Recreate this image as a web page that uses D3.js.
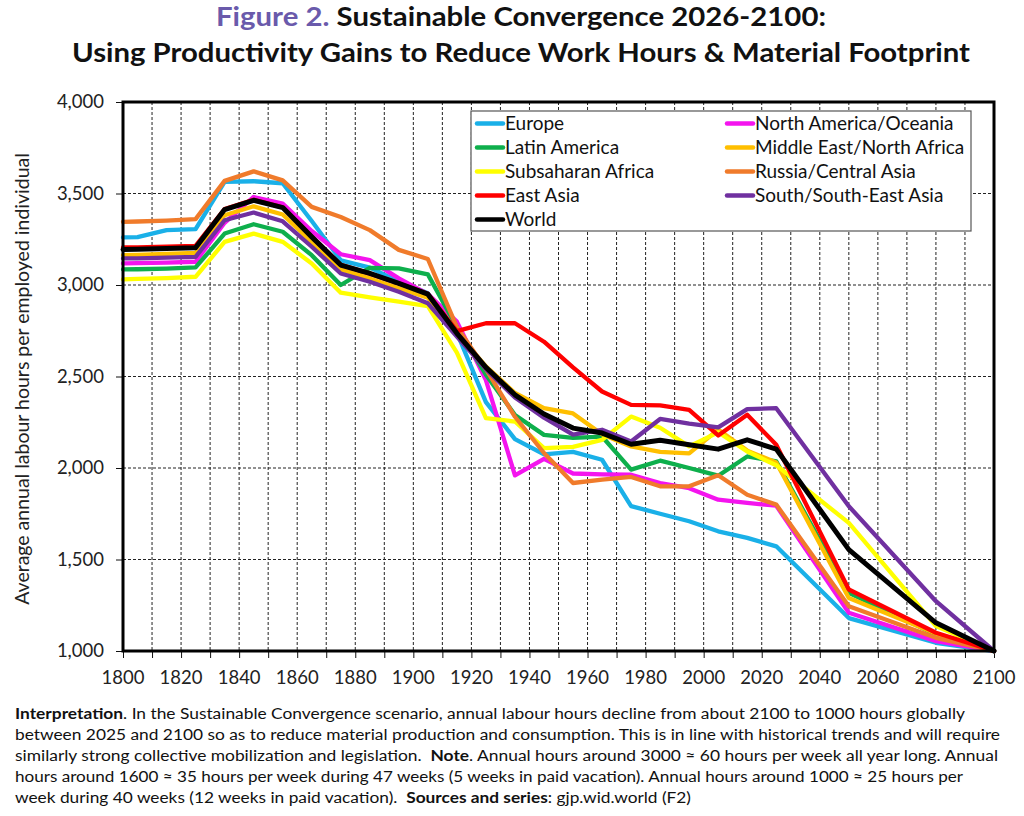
<!DOCTYPE html>
<html>
<head>
<meta charset="utf-8">
<script src="https://cdn.jsdelivr.net/npm/d3@7"></script>
<style>
  body { margin: 0; background: #fff; }
  text { font-family: Lato, "Open Sans", sans-serif; }
</style>
</head>
<body>
<div id="chart"></div>
<script>
var years = [1800, 1805, 1815, 1825, 1835, 1845, 1855, 1865, 1875, 1885, 1895, 1905, 1915, 1925, 1935, 1945, 1955, 1965, 1975, 1985, 1995, 2005, 2015, 2025, 2050, 2080, 2100];

var europe      = [3260, 3262, 3300, 3305, 3563, 3567, 3556, 3350, 3135, 3095, 3020, 2955, 2740, 2360, 2158, 2075, 2088, 2045, 1792, 1750, 1709, 1654, 1618, 1572, 1180, 1045, 1000];
var northAm     = [3118, 3119, 3122, 3127, 3340, 3481, 3445, 3295, 3168, 3136, 3036, 2950, 2800, 2480, 1960, 2050, 1970, 1965, 1963, 1918, 1890, 1827, 1809, 1794, 1209, 1054, 1000];
var latinAm     = [3085, 3086, 3090, 3096, 3281, 3332, 3291, 3163, 3000, 3094, 3091, 3058, 2770, 2510, 2290, 2181, 2165, 2172, 1991, 2040, 2000, 1958, 2063, 2036, 1318, 1090, 1000];
var mena        = [3163, 3165, 3170, 3176, 3381, 3430, 3385, 3236, 3085, 3036, 2982, 2930, 2740, 2555, 2410, 2327, 2298, 2185, 2118, 2088, 2080, 2210, 2095, 2030, 1290, 1095, 1000];
var subsaharan  = [3031, 3033, 3038, 3045, 3236, 3281, 3236, 3118, 2958, 2932, 2909, 2885, 2630, 2272, 2254, 2109, 2115, 2154, 2281, 2220, 2118, 2195, 2090, 2015, 1700, 1136, 1000];
var russia      = [3345, 3347, 3352, 3360, 3569, 3621, 3572, 3427, 3372, 3300, 3192, 3142, 2770, 2540, 2280, 2082, 1918, 1936, 1951, 1900, 1900, 1960, 1854, 1800, 1245, 1072, 1000];
var eastAsia    = [3205, 3206, 3210, 3214, 3415, 3465, 3425, 3265, 3110, 3062, 3008, 2952, 2748, 2791, 2791, 2690, 2550, 2418, 2345, 2342, 2318, 2178, 2291, 2127, 1336, 1100, 1000];
var southAsia   = [3145, 3146, 3150, 3154, 3354, 3396, 3348, 3209, 3063, 3018, 2963, 2900, 2718, 2540, 2385, 2275, 2182, 2209, 2145, 2268, 2242, 2222, 2322, 2327, 1791, 1272, 1000];
var world       = [3194, 3195, 3199, 3203, 3412, 3463, 3423, 3263, 3109, 3063, 3009, 2950, 2736, 2550, 2400, 2295, 2218, 2191, 2130, 2152, 2127, 2103, 2154, 2103, 1554, 1154, 1000];

var seriesNames = ["Europe", "North America/Oceania", "Latin America", "Middle East/North Africa", "Subsaharan Africa", "Russia/Central Asia", "East Asia", "South/South-East Asia", "World"];
var seriesValues = [europe, northAm, latinAm, mena, subsaharan, russia, eastAsia, southAsia, world];
var seriesColors = ["#1ab0e8", "#f414ee", "#0eaf4c", "#ffbf00", "#ffff00", "#f07b2b", "#ff0000", "#7030a0", "#000000"];

// legend layout: left column then right column
var legendLeft = ["Europe", "Latin America", "Subsaharan Africa", "East Asia", "World"];
var legendRight = ["North America/Oceania", "Middle East/North Africa", "Russia/Central Asia", "South/South-East Asia"];

var yTicks = [1000, 1500, 2000, 2500, 3000, 3500, 4000];
var xLabelYears = d3.range(1800, 2101, 20);
var xGridYears = d3.range(1810, 2100, 10);

var titleLine1 = ["Figure 2.", " Sustainable Convergence 2026-2100:"];
var titleLine2 = "Using Productivity Gains to Reduce Work Hours & Material Footprint";
var yTitle = "Average annual labour hours per employed individual";

var notes = [
  [["Interpretation", true], [". In the Sustainable Convergence scenario, annual labour hours decline from about 2100 to 1000 hours globally", false]],
  [["between 2025 and 2100 so as to reduce material production and consumption. This is in line with historical trends and will require", false]],
  [["similarly strong collective mobilization and legislation.  ", false], ["Note", true], [". Annual hours around 3000 \u2248 60 hours per week all year long. Annual", false]],
  [["hours around 1600 \u2248 35 hours per week during 47 weeks (5 weeks in paid vacation). Annual hours around 1000 \u2248 25 hours per", false]],
  [["week during 40 weeks (12 weeks in paid vacation).  ", false], ["Sources and series", true], [": gjp.wid.world (F2)", false]]
];
var noteWidths = [950, 985, 983, 948, 676];

var W = 1024, H = 816;
var svg = d3.select("#chart").append("svg")
    .attr("width", W)
    .attr("height", H)
    .style("background", "#fff");

var x = d3.scaleLinear().domain([1800, 2100]).range([123, 994]);
var y = d3.scaleLinear().domain([1000, 4000]).range([651, 102]);

// title
var t1 = svg.append("text")
    .attr("x", 216).attr("y", 26)
    .attr("textLength", 610).attr("lengthAdjust", "spacingAndGlyphs")
    .style("font-size", "27px").style("font-weight", "bold").style("white-space", "pre");
t1.append("tspan").attr("fill", "#6a5aab").text(titleLine1[0]);
t1.append("tspan").attr("fill", "#111").text(titleLine1[1]);
svg.append("text")
    .attr("x", 72).attr("y", 62)
    .attr("textLength", 898).attr("lengthAdjust", "spacingAndGlyphs")
    .style("font-size", "27px").style("font-weight", "bold").attr("fill", "#111")
    .text(titleLine2);

// grid
svg.append("g").selectAll("line.vg")
    .data(xGridYears).enter().append("line")
    .attr("x1", function (d) { return x(d); }).attr("x2", function (d) { return x(d); })
    .attr("y1", y(4000)).attr("y2", y(1000))
    .attr("stroke", "#222").attr("stroke-width", 1).attr("stroke-dasharray", "3,2");
svg.append("g").selectAll("line.hg")
    .data(yTicks.slice(1, -1)).enter().append("line")
    .attr("x1", x(1800)).attr("x2", x(2100))
    .attr("y1", function (d) { return y(d); }).attr("y2", function (d) { return y(d); })
    .attr("stroke", "#222").attr("stroke-width", 1).attr("stroke-dasharray", "3,2");

// axes
var xAxis = svg.append("g")
    .attr("transform", "translate(0," + y(1000) + ")")
    .call(d3.axisBottom(x).tickValues(d3.range(1800, 2101, 10)).tickSize(7).tickFormat(""));
xAxis.select(".domain").remove();
xAxis.selectAll("line").attr("stroke", "#111");
var yAxis = svg.append("g")
    .attr("transform", "translate(" + x(1800) + ",0)")
    .call(d3.axisLeft(y).tickValues(yTicks).tickSize(7).tickFormat(""));
yAxis.select(".domain").remove();
yAxis.selectAll("line").attr("stroke", "#111");

svg.append("g").selectAll("text")
    .data(xLabelYears).enter().append("text")
    .attr("x", function (d) { return x(d); })
    .attr("y", 684)
    .attr("text-anchor", "middle")
    .style("font-size", "18.5px").attr("fill", "#222")
    .text(function (d) { return d; });
svg.append("g").selectAll("text")
    .data(yTicks).enter().append("text")
    .attr("x", 104)
    .attr("y", function (d) { return y(d) + 6; })
    .attr("text-anchor", "end")
    .style("font-size", "18.5px").attr("fill", "#222")
    .text(function (d) { return d3.format(",")(d); });

svg.append("text")
    .attr("transform", "translate(29,379) rotate(-90)")
    .attr("text-anchor", "middle")
    .style("font-size", "19.5px").attr("fill", "#222")
    .text(yTitle);

// lines
var line = d3.line()
    .x(function (d, i) { return x(years[i]); })
    .y(function (d) { return y(d); });
svg.append("g").selectAll("path")
    .data(seriesValues).enter().append("path")
    .attr("d", line)
    .attr("fill", "none")
    .attr("stroke", function (d, i) { return seriesColors[i]; })
    .attr("stroke-width", function (d, i) { return i == 8 ? 5 : 4.3; })
    .attr("stroke-linejoin", "round")
    .attr("stroke-linecap", "round");

// frame
svg.append("rect")
    .attr("x", x(1800)).attr("y", y(4000))
    .attr("width", x(2100) - x(1800)).attr("height", y(1000) - y(4000))
    .attr("fill", "none").attr("stroke", "#000").attr("stroke-width", 3);

// legend
var lg = svg.append("g");
lg.append("rect")
    .attr("x", 471).attr("y", 111).attr("width", 500).attr("height", 120)
    .attr("fill", "#fff").attr("stroke", "#555").attr("stroke-width", 1.2);
function legendColumn(names, x0) {
    names.forEach(function (name, i) {
        var c = seriesColors[seriesNames.indexOf(name)];
        var yy = 123.5 + i * 24;
        lg.append("line")
            .attr("x1", x0).attr("x2", x0 + 26).attr("y1", yy).attr("y2", yy)
            .attr("stroke", c).attr("stroke-width", 4.5).attr("stroke-linecap", "round");
        lg.append("text")
            .attr("x", x0 + 28).attr("y", yy + 6.5)
            .style("font-size", "19px").attr("fill", "#111")
            .text(name);
    });
}
legendColumn(legendLeft, 477);
legendColumn(legendRight, 727);

// notes
notes.forEach(function (parts, i) {
    var t = svg.append("text")
        .attr("x", 15).attr("y", 719 + i * 21)
        .attr("textLength", noteWidths[i]).attr("lengthAdjust", "spacingAndGlyphs")
        .style("font-size", "15.5px").style("white-space", "pre").attr("fill", "#111");
    parts.forEach(function (p) {
        t.append("tspan").style("font-weight", p[1] ? "bold" : "normal").text(p[0]);
    });
});
</script>
</body>
</html>
